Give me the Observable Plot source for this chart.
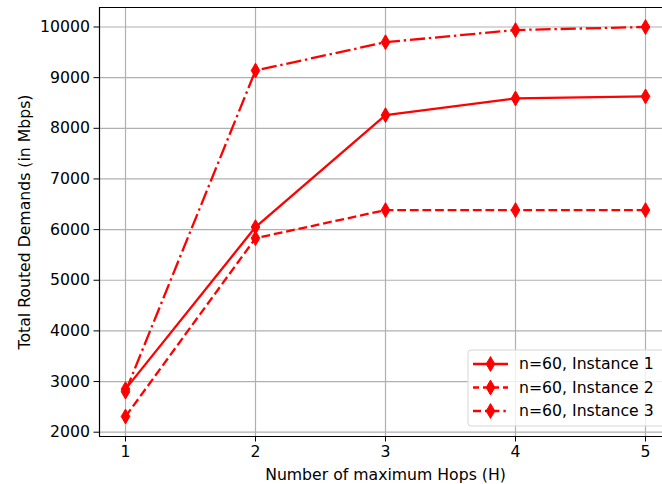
<!DOCTYPE html>
<html>
<head>
<meta charset="utf-8">
<script src="https://cdn.jsdelivr.net/npm/d3@7"></script>
<script src="https://cdn.jsdelivr.net/npm/@observablehq/plot@0.6"></script>
<style>
  html, body { margin: 0; padding: 0; background: #fff; }
  #chart { position: relative; width: 662px; height: 484px; overflow: hidden; font-family: "DejaVu Sans", sans-serif; }
  #chart svg { display: block; }
</style>
</head>
<body>
<div id="chart"></div>
<script>
const hops = [1, 2, 3, 4, 5];
const instance1 = [2850, 6050, 8260, 8590, 8630];
const instance2 = [2310, 5830, 6385, 6385, 6385];
const instance3 = [2800, 9140, 9700, 9940, 10000];
const seriesNames = ["n=60, Instance 1", "n=60, Instance 2", "n=60, Instance 3"];
const yTicks = [2000, 3000, 4000, 5000, 6000, 7000, 8000, 9000, 10000];
const xTicks = [1, 2, 3, 4, 5];
const xLabel = "Number of maximum Hops (H)";
const yLabel = "Total Routed Demands (in Mbps)";

const FS = 15.7;
const dashes = [null, "8.8,3.8", "15.2,3.8,2.4,3.8"];
const seriesValues = [instance1, instance2, instance3];
const data = seriesValues.flatMap((vals, i) => vals.map((v, j) => ({series: seriesNames[i], x: hops[j], y: v, k: i})));

const DW = 4.3, DH = 7.4;
const thinDiamond = {
  draw(context, size) {
    context.moveTo(0, -DH);
    context.lineTo(DW, 0);
    context.lineTo(0, DH);
    context.lineTo(-DW, 0);
    context.closePath();
  }
};

const red = "#ff0000";
const marks = [
  Plot.gridX(xTicks, {stroke: "#b0b0b0", strokeOpacity: 1, strokeWidth: 1.2}),
  Plot.gridY(yTicks, {stroke: "#b0b0b0", strokeOpacity: 1, strokeWidth: 1.2}),
];
seriesNames.forEach((name, i) => {
  marks.push(Plot.line(data.filter(d => d.k === i), {x: "x", y: "y", stroke: red, strokeWidth: 2.3, strokeDasharray: dashes[i] || undefined, strokeLinecap: "butt", strokeLinejoin: "round"}));
  marks.push(Plot.dot(data.filter(d => d.k === i), {x: "x", y: "y", symbol: thinDiamond, fill: red, stroke: red, strokeWidth: 1, r: 3}));
});
marks.push(
  Plot.axisY(yTicks, {anchor: "left", tickSize: 5.5, tickPadding: 4, fontSize: FS, tickFormat: d => String(d), label: null, stroke: "#000", color: "#000"}),
  Plot.axisX(xTicks, {anchor: "bottom", tickSize: 5.5, tickPadding: 4, fontSize: FS, tickFormat: d => String(d), label: null, stroke: "#000", color: "#000"}),
  Plot.text([yLabel], {frameAnchor: "left", text: d => d, rotate: -90, textAnchor: "middle", dx: -75, fontSize: FS, fill: "#000"}),
  Plot.text([xLabel], {frameAnchor: "bottom", text: d => d, textAnchor: "middle", lineAnchor: "middle", dy: 38, fontSize: FS, fill: "#000"}),
  Plot.ruleX([0.8], {stroke: "#000", strokeWidth: 1.2}),
  Plot.ruleY([1915], {stroke: "#000", strokeWidth: 1.2}),
  Plot.ruleY([10385], {stroke: "#000", strokeWidth: 1.2})
);

const chart = Plot.plot({
  width: 662,
  height: 484,
  marginLeft: 99,
  marginRight: -9,
  marginTop: 7,
  marginBottom: 48,
  style: {fontFamily: "DejaVu Sans, sans-serif", fontSize: FS + "px", background: "#fff", color: "#000"},
  x: {domain: [0.8, 5.2]},
  y: {domain: [1915, 10385]},
  marks
});
document.getElementById("chart").appendChild(chart);

// Legend (matplotlib-style, inside the axes, lower right)
const leg = d3.select("#chart").append("svg")
  .attr("width", 200).attr("height", 80)
  .style("position", "absolute").style("left", "467px").style("top", "349px");
leg.append("rect").attr("x", 1).attr("y", 1).attr("width", 210).attr("height", 76).attr("rx", 3)
  .attr("fill", "rgba(255,255,255,0.8)").attr("stroke", "#d6d6d6").attr("stroke-width", 1);
seriesNames.forEach((name, i) => {
  const cy = 15 + i * 23.5;
  leg.append("line").attr("x1", 6).attr("x2", 41).attr("y1", cy).attr("y2", cy)
    .attr("stroke", red).attr("stroke-width", 2.3).attr("stroke-dasharray", i === 0 ? null : (i === 1 ? "6,4" : "8,4,2.4,4"));
  leg.append("path").attr("d", `M23.5,${cy - DH}L${23.5 + DW},${cy}L23.5,${cy + DH}L${23.5 - DW},${cy}Z`)
    .attr("fill", red).attr("stroke", red);
  leg.append("text").attr("x", 52).attr("y", cy).attr("dy", "0.35em")
    .attr("font-family", "DejaVu Sans, sans-serif").attr("font-size", FS).attr("fill", "#000").text(name);
});
</script>
</body>
</html>
